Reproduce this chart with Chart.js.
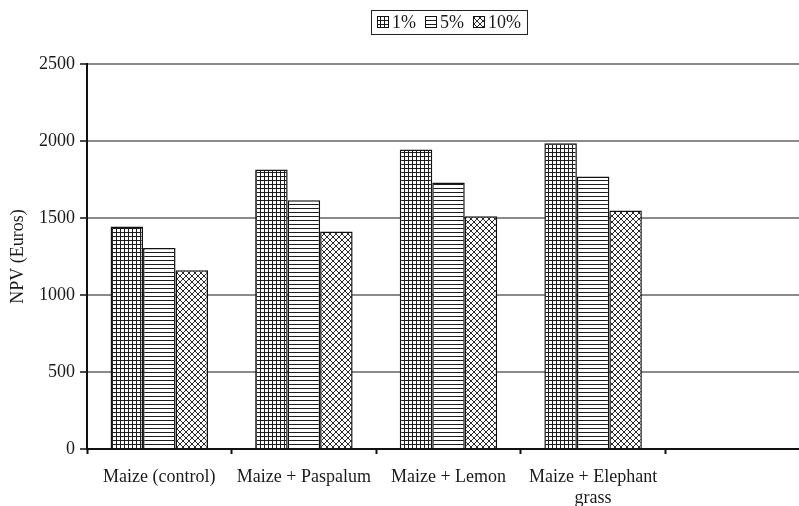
<!DOCTYPE html>
<html>
<head>
<meta charset="utf-8">
<script src="https://cdn.jsdelivr.net/npm/chart.js@4/dist/chart.umd.min.js"></script>
<style>
  html, body { margin: 0; padding: 0; background: #fff; }
  #wrap { width: 799px; height: 506px; overflow: hidden; position: relative; }
  canvas { display: block; }
</style>
</head>
<body>
<div id="wrap"><canvas id="npv" width="812" height="506"></canvas></div>
<script>
// Categories (the fifth slot is left empty on purpose)
const categories = ['Maize (control)', 'Maize + Paspalum', 'Maize + Lemon', ['Maize + Elephant', 'grass'], ''];
const seriesLabels = ['1%', '5%', '10%'];
// NPV in Euros at each discount rate
const npvRate1 = [1445, 1815, 1945, 1985, null];
const npvRate5 = [1305, 1615, 1730, 1770, null];
const npvRate10 = [1160, 1412, 1512, 1548, null];
const yTickValues = [0, 500, 1000, 1500, 2000, 2500];

const FONT = '"Liberation Serif", "Times New Roman", serif';
const INK = '#1a1a1a';

function makePattern(size, draw) {
  const c = document.createElement('canvas');
  c.width = size; c.height = size;
  const g = c.getContext('2d');
  g.fillStyle = '#ffffff';
  g.fillRect(0, 0, size, size);
  draw(g, size);
  return document.getElementById('npv').getContext('2d').createPattern(c, 'repeat');
}

// small grid
const gridPattern = makePattern(4, (g) => {
  g.fillStyle = '#1c1c1c';
  g.fillRect(0, 0, 4, 1);
  g.fillRect(0, 0, 1, 4);
});
// horizontal hatching
const hLinePattern = makePattern(4, (g) => {
  g.fillStyle = '#1c1c1c';
  g.fillRect(0, 0, 4, 1);
});
// diagonal cross hatching
const crossPattern = makePattern(6, (g, s) => {
  g.strokeStyle = '#2a2a2a';
  g.lineWidth = 1;
  g.beginPath();
  g.moveTo(0, 0); g.lineTo(s, s);
  g.moveTo(s, 0); g.lineTo(0, s);
  g.stroke();
});

// Framed legend above the plot, centred on the chart area
const framedLegend = {
  id: 'framedLegend',
  afterDraw(chart) {
    const ctx = chart.ctx;
    const area = chart.chartArea;
    const box = 12, gap = 3, itemGap = 9, padX = 6;
    ctx.save();
    ctx.font = '18px ' + FONT;
    const items = chart.data.datasets.map(ds => ({
      label: ds.label, fill: ds.backgroundColor, w: box + gap + ctx.measureText(ds.label).width
    }));
    const inner = items.reduce((s, it) => s + it.w, 0) + itemGap * (items.length - 1);
    const total = inner + padX * 2;
    const cx = (area.left + area.right) / 2;
    const left = Math.round(cx - total / 2);
    const top = 10, height = 24;
    const midY = top + height / 2;
    ctx.strokeStyle = '#222';
    ctx.lineWidth = 1;
    ctx.strokeRect(left + 0.5, top + 0.5, total, height);
    let x = left + padX;
    ctx.textBaseline = 'middle';
    items.forEach(it => {
      const by = Math.round(midY - box / 2);
      ctx.fillStyle = it.fill;
      ctx.fillRect(x, by, box, box);
      ctx.strokeStyle = '#111';
      ctx.strokeRect(x + 0.5, by + 0.5, box - 1, box - 1);
      ctx.fillStyle = INK;
      ctx.fillText(it.label, x + box + gap, midY + 1);
      x += it.w + itemGap;
    });
    ctx.restore();
  }
};

new Chart(document.getElementById('npv'), {
  type: 'bar',
  data: {
    labels: categories,
    datasets: [
      { label: seriesLabels[0], data: npvRate1, backgroundColor: gridPattern, borderColor: '#111', borderWidth: 1.5 },
      { label: seriesLabels[1], data: npvRate5, backgroundColor: hLinePattern, borderColor: '#111', borderWidth: 1.5 },
      { label: seriesLabels[2], data: npvRate10, backgroundColor: crossPattern, borderColor: '#111', borderWidth: 1.5 }
    ]
  },
  options: {
    responsive: false,
    animation: false,
    devicePixelRatio: 1,
    layout: { padding: { top: 64, right: 2, left: 0, bottom: 0 } },
    datasets: { bar: { categoryPercentage: 0.674, barPercentage: 1.0 } },
    plugins: {
      legend: { display: false },
      tooltip: { enabled: false }
    },
    scales: {
      x: {
        afterFit(scale) { scale.height = 57; },
        grid: {
          drawOnChartArea: false,
          offset: true,
          tickLength: 5,
          tickColor: '#111',
          tickWidth: 2
        },
        border: { color: '#111', width: 2 },
        ticks: {
          color: INK,
          font: { family: FONT, size: 18 },
          padding: 12,
          maxRotation: 0,
          autoSkip: false
        }
      },
      y: {
        min: 0,
        max: 2500,
        afterFit(scale) { scale.width = 87; },
        afterBuildTicks(scale) { scale.ticks = yTickValues.map(v => ({ value: v })); },
        grid: {
          color: '#8a8a8a',
          lineWidth: 2,
          tickLength: 7,
          tickColor: '#111',
          tickWidth: 1.5
        },
        border: { color: '#111', width: 2 },
        ticks: {
          color: INK,
          font: { family: FONT, size: 18 },
          padding: 5,
          callback: (v) => String(v)
        },
        title: {
          display: true,
          text: 'NPV (Euros)',
          color: INK,
          font: { family: FONT, size: 18 },
          padding: { top: 7, bottom: 0 }
        }
      }
    }
  },
  plugins: [framedLegend]
});
</script>
</body>
</html>
